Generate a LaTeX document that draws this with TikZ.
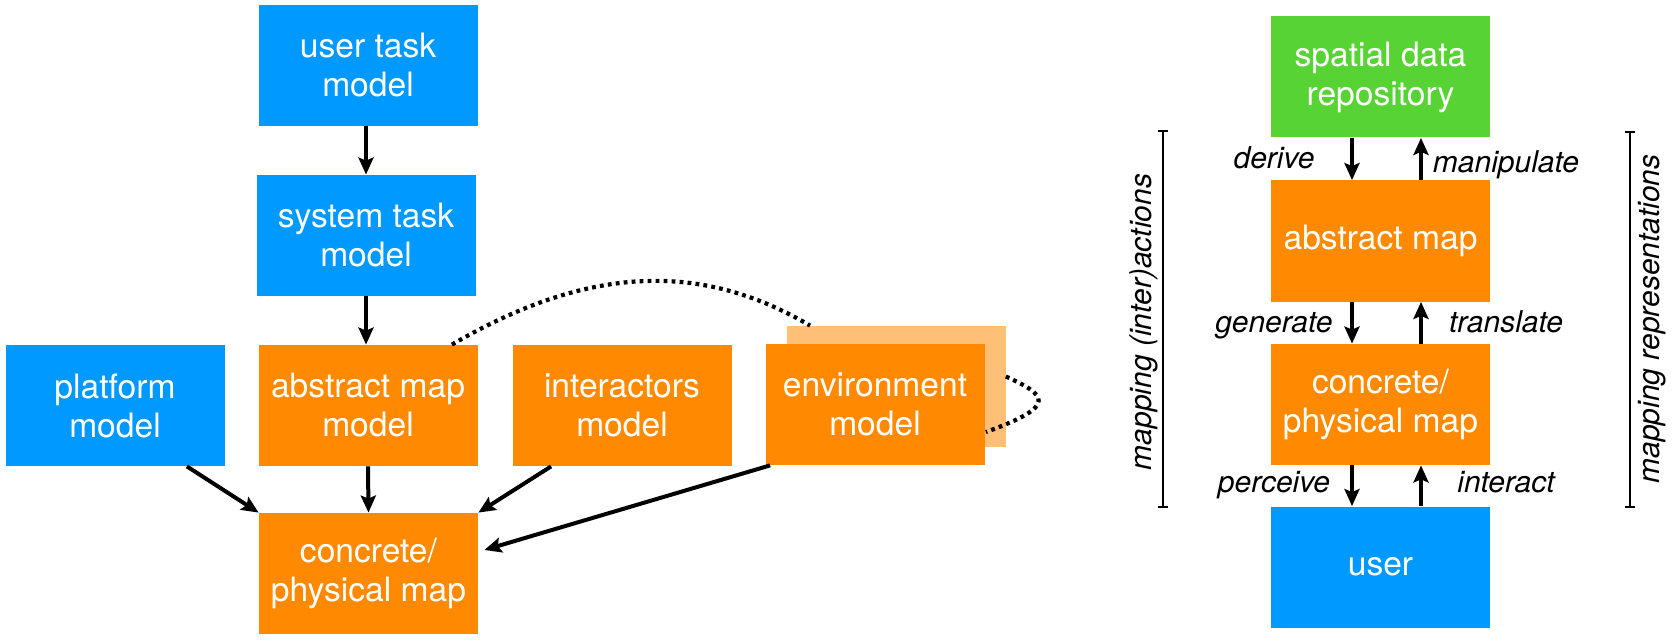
\documentclass[tikz,border=0pt]{standalone}
\usepackage{fontspec}
\setmainfont{TeX Gyre Heros}
\usetikzlibrary{arrows.meta}
\definecolor{modelblue}{RGB}{0,153,255}
\definecolor{modelorange}{RGB}{255,137,0}
\definecolor{repogreen}{RGB}{87,212,52}
\definecolor{shadeorange}{RGB}{255,191,118}
\begin{document}
\begin{tikzpicture}[x=0.5pt,y=-0.5pt,
		modelbox/.style={minimum width=109.5pt,minimum height=60.5pt,inner sep=0pt,align=center,text=white,font=\fontsize{16.8}{19.5}\selectfont},
		bluebox/.style={modelbox,fill=modelblue},
		orangebox/.style={modelbox,fill=modelorange},
		arr/.style={line width=2pt,-{Stealth[length=8.5pt,width=7.5pt,inset=1.5pt]}},
		dotline/.style={line width=2.1pt,dash pattern=on 1.9pt off 2.1pt},
		lbl/.style={font=\fontsize{15}{18}\selectfont\itshape,anchor=base,inner sep=0pt},
		bracketline/.style={line width=1.1pt}]
	\useasboundingbox (0,0) rectangle (1678,642);
	% left: models
	\node[bluebox] (ut) at (368,65.5) {user task\\model};
	\node[bluebox] (st) at (366,235.5) {system task\\model};
	\node[bluebox] (plat) at (115,405.5) {platform\\model};
	\node[orangebox] (amm) at (368,405.5) {abstract map\\model};
	\node[orangebox] (inter) at (622,405.5) {interactors\\model};
	\node[modelbox,fill=shadeorange] (envb) at (896,386.5) {};
	\node[orangebox] (env) at (875,404.5) {environment\\model};
	\node[orangebox] (cmap) at (368.5,573.5) {concrete/\\physical map};
	\draw[arr] (st.north |- ut.south) -- (st.north);
	\draw[arr] (st.south) -- (st.south |- amm.north);
	\draw[arr] ([shift={(-38,0)}]plat.south east) -- (cmap.north west);
	\draw[arr] (amm.south) -- (cmap.north);
	\draw[arr] ([shift={(39,0)}]inter.south west) -- (cmap.north east);
	\draw[arr] ([shift={(5,0)}]env.south west) -- ([shift={(6,-23.5)}]cmap.east);
	\draw[dotline] ([shift={(-26,0)}]amm.north east) .. controls +(139,-81) and +(-107,-63) .. ([shift={(24,0)}]envb.north west);
	\draw[dotline] ([shift={(0,-10)}]envb.east) .. controls +(39,18) and +(75,-27) .. ([shift={(1,27.5)}]env.east);
	% right: maps
	\node[modelbox,fill=repogreen] (repo) at (1380.5,77) {spatial data\\repository};
	\node[orangebox] (am) at (1380.5,241) {abstract map};
	\node[orangebox] (cm) at (1380.5,404.5) {concrete/\\physical map};
	\node[bluebox] (usr) at (1380.5,567) {user};
	\foreach \a/\b in {repo/am,am/cm,cm/usr}{
		\draw[arr] ([xshift=-14.25pt]\a.south) -- ([xshift=-14.25pt]\b.north);
		\draw[arr] ([xshift=20.25pt]\b.north) -- ([xshift=20.25pt]\a.south);
	}
	\node[lbl] (l-derive) at (1274,169) {derive};
	\node[lbl] (l-manip) at (1506,173) {manipulate};
	\node[lbl] (l-gen) at (1274,332) {generate};
	\node[lbl] (l-trans) at (1506,332) {translate};
	\node[lbl] (l-perc) at (1274,492) {perceive};
	\node[lbl] (l-interact) at (1506,492) {interact};
	\draw[bracketline] (1158,131) -- (1168,131) (1163,131) -- (1163,507) (1158,507) -- (1168,507);
	\draw[bracketline] (1625,132) -- (1635,132) (1630,132) -- (1630,507) (1625,507) -- (1635,507);
	\node[lbl,rotate=90,anchor=center] (map-act) at (1144,322) {mapping (inter)actions};
	\node[lbl,rotate=90,anchor=center] (map-rep) at (1652,319) {mapping representations};
\end{tikzpicture}
\end{document}
